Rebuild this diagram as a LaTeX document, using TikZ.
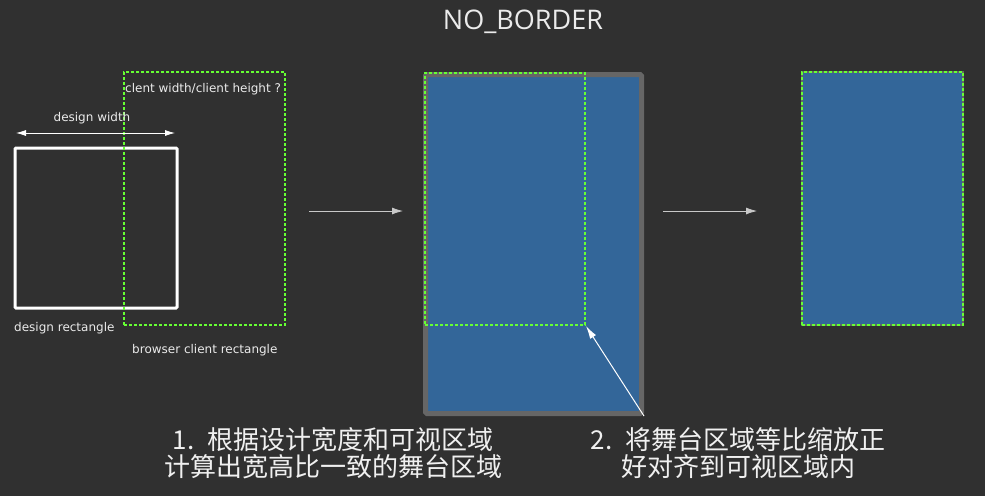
\documentclass[tikz,border=0pt]{standalone}
\usepackage{fontspec}
\setmainfont{DejaVu Sans}
\newfontfamily\titlefont{Open Sans}
\newfontfamily\cjk{Noto Sans CJK SC}
\usetikzlibrary{arrows.meta}
\definecolor{bgdark}{HTML}{303030}
\definecolor{clientgreen}{HTML}{66FF33}
\definecolor{stageblue}{HTML}{336699}
\definecolor{framegray}{HTML}{666666}
\definecolor{arrowgray}{HTML}{C8C8C8}
\tikzset{
  box/.style={rectangle,inner sep=0pt},
  clientbox/.style={box,draw=clientgreen,line width=2pt,dash pattern=on 3pt off 2pt},
  smalltext/.style={text=white!92!black,font=\fontsize{12}{14}\selectfont,inner sep=0pt},
  cjktext/.style={text=white!94!black,font=\cjk\fontsize{26}{27}\selectfont,align=center},
  flow/.style={draw=arrowgray,line width=0.8pt,-{Latex[length=11pt,width=7pt]}},
}
\begin{document}
\begin{tikzpicture}[x=1pt,y=-1pt]
    \useasboundingbox[fill=bgdark] (0,0) rectangle (985,496);
    \node[text=white!92!black,font=\titlefont\fontsize{27}{30}\selectfont] (title) at (523,22) {NO\_BORDER};
    % step 0: design and client rectangles
    \node[box,draw=white,line width=3pt,rounded corners=1pt,minimum width=162pt,minimum height=160pt] (design) at (96,228) {};
    \node[clientbox,minimum width=161pt,minimum height=253pt] (client) at (204.5,198.5) {};
    \coordinate (dwl) at (16,133);
    \coordinate (dwr) at (175,133);
    \draw[white,line width=0.8pt,{Latex[length=10pt,width=6pt]}-{Latex[length=10pt,width=6pt]}] (dwl) -- (dwr);
    \node[smalltext] (dwtext) at (92,118) {design width};
    \node[smalltext,anchor=west] (ratio) at (125,89) {clent width/client height ?};
    \node[smalltext,anchor=west] (dtext) at (14,328) {design rectangle};
    \node[smalltext,anchor=west] (ctext) at (132,350) {browser client rectangle};
    % step 1: stage
    \coordinate (f1a) at (309,211);
    \coordinate (f1b) at (403,211);
    \draw[flow] (f1a) -- (f1b);
    \node[box,fill=stageblue,draw=framegray,line width=5pt,rounded corners=1.5pt,minimum width=216pt,minimum height=339pt] (stage) at (533.5,244) {};
    \node[clientbox,minimum width=160pt,minimum height=252pt] (clientB) at (505,199) {};
    \draw[white,line width=1pt,-{Latex[length=13pt,width=7pt]}] (stage.south east) -- (clientB.south east);
    % step 2: scaled stage
    \coordinate (f2a) at (663,211);
    \coordinate (f2b) at (757,211);
    \draw[flow] (f2a) -- (f2b);
    \node[box,fill=stageblue,draw=framegray,line width=1.5pt,minimum width=161pt,minimum height=253pt] (result) at (882.5,198.5) {};
    \node[clientbox,minimum width=161pt,minimum height=253pt] (clientC) at (result) {};
    \node[cjktext] (step1) at (333,453) {1.\enskip 根据设计宽度和可视区域\\计算出宽高比一致的舞台区域};
    \node[cjktext] (step2) at (738,453) {2.\enskip 将舞台区域等比缩放正\\好对齐到可视区域内};
\end{tikzpicture}
\end{document}
